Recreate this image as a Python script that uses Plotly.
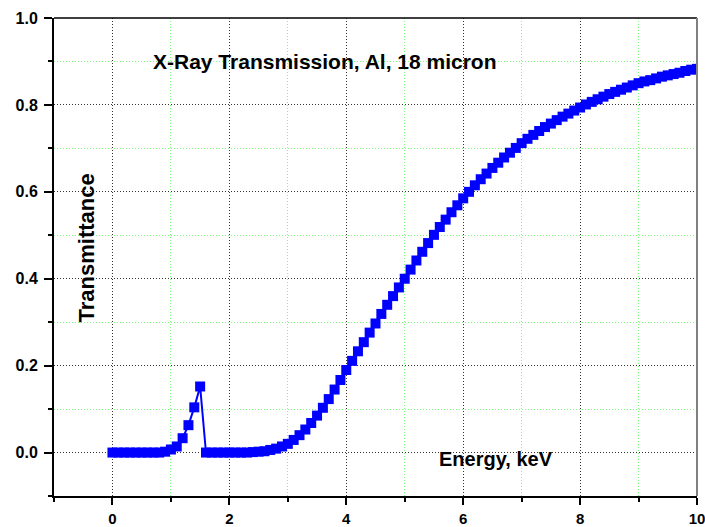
import plotly.graph_objects as go

energy_keV = [round(i * 0.1, 1) for i in range(0, 101)]

transmittance = [
    # 0.0 - 0.9
    0.000, 0.000, 0.000, 0.000, 0.000, 0.000, 0.000, 0.000, 0.000, 0.002,
    # 1.0 - 1.9
    0.007, 0.014, 0.033, 0.063, 0.104, 0.152, 0.000, 0.000, 0.000, 0.000,
    # 2.0 - 2.9
    0.000, 0.000, 0.000, 0.000, 0.001, 0.002, 0.003, 0.006, 0.009, 0.014,
    # 3.0 - 3.9
    0.020, 0.029, 0.040, 0.053, 0.068, 0.085, 0.103, 0.123, 0.145, 0.167,
    # 4.0 - 4.9
    0.190, 0.211, 0.233, 0.254, 0.276, 0.297, 0.319, 0.340, 0.360, 0.380,
    # 5.0 - 5.9
    0.400, 0.421, 0.442, 0.462, 0.482, 0.501, 0.519, 0.536, 0.553, 0.569,
    # 6.0 - 6.9
    0.585, 0.600, 0.615, 0.629, 0.642, 0.655, 0.667, 0.679, 0.690, 0.701,
    # 7.0 - 7.9
    0.712, 0.722, 0.731, 0.740, 0.749, 0.757, 0.765, 0.773, 0.780, 0.787,
    # 8.0 - 8.9
    0.794, 0.801, 0.807, 0.813, 0.819, 0.825, 0.830, 0.835, 0.840, 0.845,
    # 9.0 - 10.0
    0.850, 0.854, 0.857, 0.861, 0.865, 0.868, 0.871, 0.874, 0.878, 0.881,
    0.883,
]

x_tick_vals = [0, 2, 4, 6, 8, 10]
x_tick_text = ["0", "2", "4", "6", "8", "10"]
y_tick_vals = [0.0, 0.2, 0.4, 0.6, 0.8, 1.0]
y_tick_text = ["0.0", "0.2", "0.4", "0.6", "0.8", "1.0"]

title_text = "X-Ray Transmission, Al, 18 micron"
x_label = "Energy, keV"
y_label = "Transmittance"

FONT = "Liberation Sans, Arial, sans-serif"
BLUE = "#0000FF"

fig = go.Figure()
fig.add_trace(go.Scatter(
    x=energy_keV, y=transmittance,
    mode="lines+markers",
    line=dict(color=BLUE, width=2),
    marker=dict(symbol="square", size=10, color=BLUE,
                line=dict(width=0)),
    showlegend=False,
))

major_grid = dict(showgrid=True, gridcolor="#333333", gridwidth=1, griddash="1px,2px")
minor_grid = dict(showgrid=True, gridcolor="#7CFC7C", gridwidth=1, griddash="1px,2px")

fig.update_layout(
    width=705, height=527,
    margin=dict(l=54, r=8, t=18, b=31),
    paper_bgcolor="white", plot_bgcolor="white",
    font=dict(family=FONT, color="black"),
    xaxis=dict(
        range=[-1, 10], automargin=False,
        tickvals=x_tick_vals, ticktext=["<b>%s</b>" % t for t in x_tick_text],
        ticks="outside", ticklen=7, tickwidth=2, tickcolor="black",
        ticklabelstandoff=1, ticklabeloverflow="allow",
        showline=True, linecolor="black", linewidth=2,
        zeroline=False,
        tickfont=dict(family=FONT, size=15, color="black"),
        minor=dict(tick0=0, dtick=1, ticks="outside", ticklen=4, tickwidth=2,
                   tickcolor="black", **minor_grid),
        **major_grid,
    ),
    yaxis=dict(
        range=[-0.1, 1.0], automargin=False,
        tickvals=y_tick_vals, ticktext=["<b>%s</b>" % t for t in y_tick_text],
        ticks="outside", ticklen=8, tickwidth=2, tickcolor="black",
        ticklabelstandoff=3,
        showline=True, linecolor="black", linewidth=2,
        zeroline=False,
        tickfont=dict(family=FONT, size=16, color="black"),
        minor=dict(tick0=0, dtick=0.1, ticks="outside", ticklen=4, tickwidth=2,
                   tickcolor="black", **minor_grid),
        **major_grid,
    ),
    shapes=[
        dict(type="line", xref="paper", yref="paper", x0=0, x1=1, y0=1, y1=1,
             line=dict(color="black", width=1.5), layer="above"),
        dict(type="line", xref="paper", yref="paper", x0=1, x1=1, y0=0, y1=1,
             line=dict(color="#808080", width=2), layer="above"),
    ],
    annotations=[
        dict(text="<b>%s</b>" % title_text, xref="paper", yref="paper", x=0.4215, y=0.909,
             xanchor="center", yanchor="middle", showarrow=False,
             font=dict(family=FONT, size=21, color="black")),
        dict(text="<b>%s</b>" % x_label, xref="paper", yref="paper", x=0.688, y=0.078,
             xanchor="center", yanchor="middle", showarrow=False,
             font=dict(family=FONT, size=20, color="black")),
        dict(text="<b>%s</b>" % y_label, xref="paper", yref="paper", x=0.0498, y=0.518,
             xanchor="center", yanchor="middle", showarrow=False, textangle=-90,
             font=dict(family=FONT, size=22, color="black")),
    ],
)

fig.write_html("out.html")
